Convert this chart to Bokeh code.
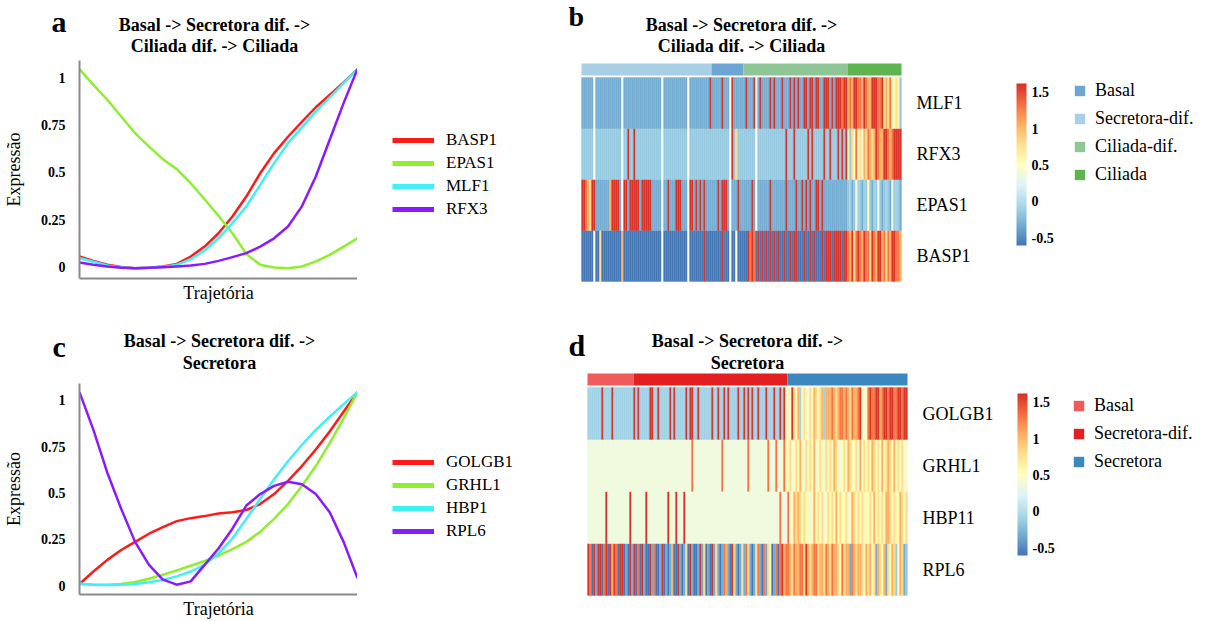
import numpy as np
from bokeh.plotting import figure
from bokeh.models import (ColumnDataSource, LinearColorMapper, ColorBar, FixedTicker,
                          Legend, LegendItem, Label, NumeralTickFormatter, Range1d)
from bokeh.core.properties import value
from bokeh.transform import transform
from bokeh.layouts import column, row
from bokeh.embed import file_html
from bokeh.resources import INLINE

SERIF = "Liberation Serif"

# ---------------- data: trajectory curves ----------------
trajectory = [0.0, 0.05, 0.1, 0.15, 0.2, 0.25, 0.3, 0.35, 0.4, 0.45, 0.5,
              0.55, 0.6, 0.65, 0.7, 0.75, 0.8, 0.85, 0.9, 0.95, 1.0]

a_BASP1 = [0.053, 0.03, 0.01, -0.003, -0.009, -0.007, 0.0, 0.014, 0.053, 0.106, 0.177,
           0.266, 0.372, 0.496, 0.603, 0.69, 0.77, 0.847, 0.913, 0.979, 1.05]
a_EPAS1 = [1.05, 0.966, 0.887, 0.798, 0.709, 0.638, 0.571, 0.518, 0.443, 0.358, 0.27,
           0.177, 0.067, 0.009, -0.005, -0.009, 0.0, 0.027, 0.062, 0.106, 0.15]
a_MLF1 = [0.045, 0.025, 0.005, -0.005, -0.009, -0.007, -0.002, 0.009, 0.039, 0.085, 0.15,
          0.23, 0.32, 0.434, 0.55, 0.656, 0.74, 0.824, 0.9, 0.975, 1.05]
a_RFX3 = [0.021, 0.009, 0.0, -0.007, -0.009, -0.007, -0.004, 0.0, 0.005, 0.014, 0.03,
          0.05, 0.071, 0.106, 0.15, 0.213, 0.32, 0.479, 0.674, 0.869, 1.05]

c_GOLGB1 = [0.009, 0.076, 0.139, 0.192, 0.236, 0.28, 0.316, 0.348, 0.364, 0.375, 0.389,
            0.396, 0.408, 0.44, 0.494, 0.565, 0.645, 0.734, 0.831, 0.938, 1.044]
c_GRHL1 = [0.009, 0.005, 0.005, 0.009, 0.02, 0.037, 0.059, 0.082, 0.107, 0.133, 0.162,
           0.197, 0.236, 0.29, 0.36, 0.44, 0.538, 0.645, 0.769, 0.902, 1.044]
c_HBP1 = [0.012, 0.005, 0.004, 0.005, 0.009, 0.018, 0.03, 0.05, 0.076, 0.112, 0.174,
          0.254, 0.36, 0.467, 0.574, 0.671, 0.76, 0.84, 0.911, 0.979, 1.044]
c_RPL6 = [1.044, 0.84, 0.609, 0.414, 0.236, 0.112, 0.032, 0.005, 0.023, 0.112, 0.2,
          0.307, 0.432, 0.494, 0.538, 0.56, 0.547, 0.494, 0.396, 0.236, 0.041]

a_genes = ["BASP1", "EPAS1", "MLF1", "RFX3"]
a_series = [a_BASP1, a_EPAS1, a_MLF1, a_RFX3]
c_genes = ["GOLGB1", "GRHL1", "HBP1", "RPL6"]
c_series = [c_GOLGB1, c_GRHL1, c_HBP1, c_RPL6]
line_colors = ["#ff1a1a", "#8fef2f", "#3ff0f5", "#8a1aff"]

# ---------------- data: heatmaps (one code per cell, read left to right) ----------------
level = {"a": -0.6, "b": -0.33, "c": -0.15, "d": -0.1, "e": 0.36, "f": 0.55,
         "g": 0.8, "h": 1.05, "i": 1.3, "j": 1.6, "w": float("nan")}

b_genes = ["BASP1", "EPAS1", "RFX3", "MLF1"]          # bottom to top
b_cells = {
    "MLF1": "bbbbb bwbbb bbbbb bbbbb  wbbbb bbbbb bbbbb bbbbb  wbbbb bbbbb bbbwb bbbbb  "
            "bbbbj bbbbb jbbbw jbbbb  bbjbb bjwbj bbbbj bjbbb  jbbbj bjbjb bjjbj jbjjb  "
            "bjjjb jbjjj ijjhi hjjii  hjihh jjjii jghgi ffgfc",
    "RFX3": "ccccc cwccc ccccc ccccc  wccjc cjccc ccccc ccccc  wcccc ccccc cccwc ccccc  "
            "ccccc ccccc ccccw jcgcc  ccccc ccwcc ccccc ccccc  ccjcc cjccc cccjc jcccc  "
            "cjccj cccjc jcjfc gfifg  ehgih ghjih hjjih ijjjj",
    "EPAS1": "jjihg jjbbb bbbbh jjjjb  wjjbj jjjjb jjjjj bbbbb  wbbjb bbjjj bbbwj jbjbj  "
             "bjbbb bbbjb jjjbw bbbjb  bbbbb jbwbb bbbbj bbbbb  bbjbb bbjbb jbjbj bbjjb  "
             "jbbbb bbbbb bbbcd bcedc  bdcfc bdcec bcdcb ecdcb",
    "BASP1": "aaaaa awaag aaaaa aaaaa  haaaa aaaaa aaaaa aaaaa  waaaa aaaaa aaawa aaaaa  "
             "ajaaa aaaaa jaaaw aawaa  aaaji jiaja jajaj ajaja  ajaaj ajjaa ajaaj ajaaa  "
             "jajjj ajjjj ajjih jgiji  hjiig jihjj higih jjiih",
}
b_groups = ["Secretora-dif.", "Basal", "Ciliada-dif.", "Ciliada"]
b_group_counts = [65, 16, 52, 27]
b_legend = ["Basal", "Secretora-dif.", "Ciliada-dif.", "Ciliada"]
b_group_colors = {"Basal": "#6ea6d3", "Secretora-dif.": "#a8cfe4",
                  "Ciliada-dif.": "#8ec795", "Ciliada": "#5eb54f"}

d_genes = ["RPL6", "HBP11", "GRHL1", "GOLGB1"]          # bottom to top
d_cells = {
    "GOLGB1": "ddddd ddjdd ddjdd ddddd  dddjd jdddd djjdd jdddd  djdjd ddddj djjdd jdddd  "
              "ddjdd jddjd jdddd jddjd  jdjdd jdddj dddjd djdjf  fejgf hdfgf egfhg fghdh  "
              "hhihg hiihi hgihh ijfef  ijiij jhijj ijjii jjijj",
    "GRHL1": "eeeee eeeee eeeee eeeee  eeeee eeeee eeeee eeeee  eeeee eeeee eeiee eeeee  "
             "eeeee eeiee eeeee eeeee  ieeee eeeee ieeei eeeif  fgefg fhfeg fgfhe fgfeg  "
             "fgfhg fefgf hgffg ehfgf  gfhgf gfhfg hgfhf gfgef",
    "HBP11": "eeeee eeeej eeeee eeeee  ejeee eeeej eeeee eeeee  jeeej eeeje eeeee eeeee  "
             "eeeee eeeee eeeee eeeee  eeeee eeeee eeeee eieee  iefhg hgfgf fefhf gfgef  "
             "gfgfh fgffg efhgf gfgff  fgfhf gfgfh hgfgf fhgfg",
    "RPL6": "jiajb jjaij ajhji ajjab  ajbja iajba ajbia abjab  abhaa jbabg ajbaa bjbga  "
            "bajbg babih bajgb abgbi  gbabg ibaib gfabi aijhi  ihgih hiigj hghii ghhgi  "
            "hgihh gfigh hbihg hhgfh  ghfgb hgfhb gfhgc fhgbc",
}
d_groups = ["Basal", "Secretora-dif.", "Secretora"]
d_group_counts = [23, 77, 60]
d_legend = ["Basal", "Secretora-dif.", "Secretora"]
d_group_colors = {"Basal": "#f05b5b", "Secretora-dif.": "#e3201f", "Secretora": "#3b88c0"}

titles_ab = ["Basal -> Secretora dif. ->", "Ciliada dif. -> Ciliada"]
titles_cd = ["Basal -> Secretora dif. ->", "Secretora"]

# ---------------- colour scale ----------------
stops = ["#4575b4", "#74add1", "#abd9e9", "#e0f3f8", "#ffffbf",
         "#fee090", "#fdae61", "#f46d43", "#d73027"]
rgb = np.array([[int(s[i:i + 2], 16) for i in (1, 3, 5)] for s in stops], float)
palette = []
for v in np.linspace(0, len(stops) - 1, 256):
    k = min(int(v), len(stops) - 2)
    f = v - k
    c = rgb[k] * (1 - f) + rgb[k + 1] * f
    palette.append("#%02x%02x%02x" % tuple(int(round(x)) for x in c))
mapper = LinearColorMapper(palette=palette, low=-0.61, high=1.62, nan_color="white")

TITLE_SIZE = "18px"


def add_label(p, x, y, text, size, style="normal", align="center", baseline="middle"):
    p.add_layout(Label(x=x, y=y, text=text, text_font=SERIF, text_font_size=size,
                       text_font_style=style, text_align=align, text_baseline=baseline,
                       text_color="black"))


def blank(width, height, y0, x0=0):
    # figure whose frame is the whole canvas, in page-pixel coordinates
    p = figure(width=width, height=height, x_range=Range1d(x0, x0 + width),
               y_range=Range1d(y0 + height, y0), x_axis_type=None, y_axis_type=None,
               toolbar_location=None, output_backend="svg", min_border=0, frame_align=False)
    p.outline_line_color = None
    return p


def line_panel(width, height, bl, bt, bb, yr, series):
    p = figure(width=width, height=height, x_range=Range1d(0, 1), y_range=Range1d(*yr),
               toolbar_location=None, output_backend="svg", frame_align=False,
               min_border_left=bl, min_border_right=0,
               min_border_top=bt, min_border_bottom=bb)
    p.outline_line_color = None
    p.xgrid.visible = False
    p.ygrid.visible = False
    for ax in p.axis:
        ax.axis_line_color = "#8a8a8a"
        ax.axis_line_width = 2
        ax.major_tick_line_color = None
        ax.minor_tick_line_color = None
        ax.axis_label_text_font = SERIF
        ax.axis_label_text_font_style = "normal"
        ax.axis_label_text_font_size = "18px"
        ax.axis_label_text_color = "black"
    p.yaxis.ticker = FixedTicker(ticks=[0, 0.25, 0.5, 0.75, 1])
    p.yaxis.formatter = NumeralTickFormatter(format="0.[00]")
    p.yaxis.major_label_text_font = SERIF
    p.yaxis.major_label_text_font_style = "bold"
    p.yaxis.major_label_text_font_size = "14px"
    p.yaxis.major_label_text_color = "black"
    p.yaxis.major_label_standoff = 8
    p.yaxis.axis_label = "Expressão"
    p.yaxis.axis_label_standoff = 14
    p.xaxis.ticker = FixedTicker(ticks=[])
    p.xaxis.major_label_standoff = 0
    p.xaxis.axis_label = "Trajetória"
    p.xaxis.axis_label_standoff = 4
    for s, col in zip(series, line_colors):
        p.line(trajectory, s, line_color=col, line_width=2.5, line_join="round")
    return p


def legend_panel(width, height, genes, series, loc):
    # the legend's own copies of the curves lie outside this panel's visible x range
    p = figure(width=width, height=height, x_range=Range1d(2, 3), y_range=Range1d(0, 1),
               x_axis_type=None, y_axis_type=None, toolbar_location=None,
               output_backend="svg", min_border=0, frame_align=False)
    p.outline_line_color = None
    items = []
    for g, s, col in zip(genes, series, line_colors):
        r = p.line(trajectory, s, line_color=col, line_width=5)
        items.append(LegendItem(label=g, renderers=[r]))
    leg = Legend(items=items, location=loc, glyph_width=42, glyph_height=20,
                 label_height=20, spacing=3, padding=0, margin=0, label_standoff=12,
                 border_line_color=None, background_fill_alpha=0,
                 label_text_font=SERIF, label_text_font_size="17px",
                 label_text_color="black")
    p.add_layout(leg)
    return p


def heat_panel(height, page_top, cell_left, cell_bottom, unit, genes, cells, groups, counts,
               gcolors, legend_names, legend_loc, cbar_loc):
    # frame covers the whole figure; cells are 2 px wide, rows `unit` px tall
    x0 = (565 - cell_left) / 2
    x1 = (1209 - cell_left) / 2
    y0 = (cell_bottom - (page_top + height)) / unit
    y1 = (cell_bottom - page_top) / unit
    p = figure(width=644, height=height, x_range=Range1d(x0, x1), y_range=Range1d(y0, y1),
               x_axis_type=None, y_axis_type=None, toolbar_location=None, output_backend="svg",
               min_border=0, frame_align=False)
    p.outline_line_color = None
    left, right, bottom, top, val = [], [], [], [], []
    ncols = 0
    for r, g in enumerate(genes):
        codes = "".join(cells[g].split())
        ncols = len(codes)
        for i, ch in enumerate(codes):
            left.append(i)
            right.append(i + 1)
            bottom.append(r)
            top.append(r + 1)
            val.append(level[ch])
    src = ColumnDataSource(dict(left=np.array(left, float), right=np.array(right, float),
                                bottom=np.array(bottom, float), top=np.array(top, float),
                                value=np.array(val, float)))
    p.quad(left="left", right="right", bottom="bottom", top="top", source=src,
           fill_color=transform("value", mapper), line_color=transform("value", mapper),
           line_width=0.3)
    gap = 2.0 / unit
    bar_top = len(genes) + gap + 12.0 / unit
    start = 0
    rends = {}
    for g, n in zip(groups, counts):
        rends[g] = p.quad(left=[start], right=[start + n], bottom=[len(genes) + gap],
                          top=[bar_top], fill_color=gcolors[g], line_color=None)
        start += n
    lab = ColumnDataSource(dict(x=[ncols + 7.5] * len(genes),
                                y=[r + 0.5 for r in range(len(genes))], text=genes))
    p.text(x="x", y="y", text="text", source=lab, text_font=value(SERIF),
           text_font_size="18px", text_baseline="middle", text_align="left",
           text_color="black")
    cb = ColorBar(color_mapper=mapper, location=cbar_loc, width=10, height=162, padding=0,
                  margin=0, ticker=FixedTicker(ticks=[-0.5, 0, 0.5, 1, 1.5]),
                  formatter=NumeralTickFormatter(format="0.[0]"),
                  major_tick_line_color=None, minor_tick_line_color=None, bar_line_color=None,
                  border_line_color=None, background_fill_alpha=0, label_standoff=5,
                  major_label_text_font=SERIF, major_label_text_font_style="bold",
                  major_label_text_font_size="14px", major_label_text_color="black")
    p.add_layout(cb)
    items = [LegendItem(label=n, renderers=[rends[n]]) for n in legend_names]
    leg = Legend(items=items, location=legend_loc, glyph_width=13, glyph_height=13,
                 label_height=13, spacing=7, padding=0, margin=0, label_standoff=9,
                 border_line_color=None, background_fill_alpha=0,
                 label_text_font=SERIF, label_text_font_size="18px", label_text_color="black")
    p.add_layout(leg)
    return p


# ---- top strip: titles and letters of a and b (page y 0..60) ----
top = blank(1209, 60, 0)
add_label(top, 214, 24, titles_ab[0], TITLE_SIZE, "bold")
add_label(top, 214, 45, titles_ab[1], TITLE_SIZE, "bold")
add_label(top, 51, 21, "a", "30px", "bold", align="left")
add_label(top, 741, 24, titles_ab[0], TITLE_SIZE, "bold")
add_label(top, 741, 45, titles_ab[1], TITLE_SIZE, "bold")
add_label(top, 568, 16, "b", "28px", "bold", align="left")

# ---- row 1 (page y 60..310) ----
pa = line_panel(357, 250, 77, 0, 32, (-0.0638, 1.0957), a_series)
la = legend_panel(208, 250, a_genes, a_series, (35, 91))
pb = heat_panel(250, 60, 581, 281, 51, b_genes, b_cells, b_groups, b_group_counts,
                b_group_colors, b_legend, (508, 125), (451, 65))

# ---- bottom strip: titles and letters of c and d (page y 310..372) ----
mid = blank(1209, 62, 310)
add_label(mid, 219, 340, titles_cd[0], TITLE_SIZE, "bold")
add_label(mid, 219, 362, titles_cd[1], TITLE_SIZE, "bold")
add_label(mid, 52, 346, "c", "30px", "bold", align="left")
add_label(mid, 747, 340, titles_cd[0], TITLE_SIZE, "bold")
add_label(mid, 747, 362, titles_cd[1], TITLE_SIZE, "bold")
add_label(mid, 568, 345, "d", "30px", "bold", align="left")

# ---- row 2 (page y 372..621) ----
pc = line_panel(357, 249, 79, 11, 24, (-0.0479, 1.0904), c_series)
lc = legend_panel(208, 249, c_genes, c_series, (35, 80))
pd_ = heat_panel(249, 372, 587, 595, 52, d_genes, d_cells, d_groups, d_group_counts,
                 d_group_colors, d_legend, (507, 149), (452, 66))

layout = column(top, row(pa, la, pb), mid, row(pc, lc, pd_))
open("out.html", "w").write(file_html(layout, INLINE))
